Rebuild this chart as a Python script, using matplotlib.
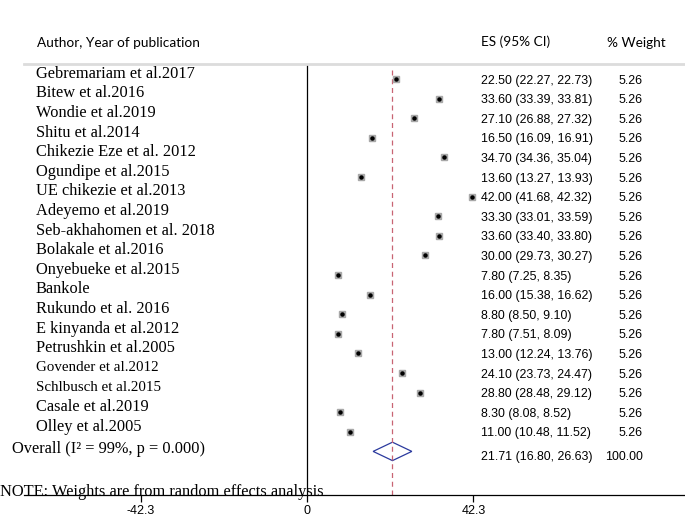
import matplotlib.pyplot as plt
from matplotlib import transforms
from matplotlib.patches import Polygon

studies = ["Gebremariam et al.2017", "Bitew et al.2016", "Wondie et al.2019",
           "Shitu et al.2014", "Chikezie Eze et al. 2012", "Ogundipe et al.2015",
           "UE chikezie et al.2013", "Adeyemo et al.2019", "Seb-akhahomen et al. 2018",
           "Bolakale et al.2016", "Onyebueke et al.2015", "Bankole",
           "Rukundo et al. 2016", "E kinyanda et al.2012", "Petrushkin et al.2005",
           "Govender et al.2012", "Schlbusch et al.2015", "Casale et al.2019",
           "Olley et al.2005"]
es = [22.50, 33.60, 27.10, 16.50, 34.70, 13.60, 42.00, 33.30, 33.60, 30.00,
      7.80, 16.00, 8.80, 7.80, 13.00, 24.10, 28.80, 8.30, 11.00]
lo = [22.27, 33.39, 26.88, 16.09, 34.36, 13.27, 41.68, 33.01, 33.40, 29.73,
      7.25, 15.38, 8.50, 7.51, 12.24, 23.73, 28.48, 8.08, 10.48]
hi = [22.73, 33.81, 27.32, 16.91, 35.04, 13.93, 42.32, 33.59, 33.80, 30.27,
      8.35, 16.62, 9.10, 8.09, 13.76, 24.47, 29.12, 8.52, 11.52]
weights = [5.26] * 19
overall = (21.71, 16.80, 26.63, 100.00)
xticks = [-42.3, 0, 42.3]

W, H = 685, 520
fig = plt.figure(figsize=(W / 100, H / 100), dpi=100)
# axes spans pixel x 24..685, y 64..495
ax = fig.add_axes([24 / W, 1 - 495 / H, 661 / W, 431 / H])
px = 3.936  # pixels per unit
ax.set_xlim(-(307 - 24) / px, (685 - 307) / px)
ax.set_ylim((495 - 79) / 19.6, (64 - 79) / 19.6)

for s in ["left", "right"]:
    ax.spines[s].set_visible(False)
ax.spines["top"].set_color("#dcdcdc")
ax.spines["top"].set_linewidth(2)
ax.spines["bottom"].set_linewidth(0.9)
ax.set_yticks([])
ax.set_xticks(xticks)
ax.set_xticklabels(["-42.3", "0", "42.3"], family="Liberation Sans", fontsize=9)
ax.tick_params(axis="x", length=5, width=0.9, pad=2)

rows = list(range(len(studies)))
n = len(studies)

ax.axvline(0, color="black", lw=0.9)
ax.plot([overall[0], overall[0]], [-0.45, (495 - 79) / 19.6], color="#c86473",
        lw=0.9, ls=(0, (4, 3)))

ax.hlines(rows, lo, hi, color="black", lw=0.8)
ax.plot(es, rows, "s", color="#a8a8a8", markersize=4.6, lw=0)
ax.plot(es, rows, "o", color="black", markersize=2.2, lw=0)

d = Polygon([[overall[1], n], [overall[0], n - 0.47], [overall[2], n],
             [overall[0], n + 0.47]], closed=True, fill=False,
            edgecolor="#2b3a9e", lw=0.9)
ax.add_patch(d)

tr = transforms.blended_transform_factory(fig.transFigure, ax.transData)
for i, name in enumerate(studies):
    fs = 10.8 if name.startswith(("Govender", "Schlbusch")) else 11.8
    ax.text(36 / W, i - 0.27, name, transform=tr, family="Liberation Serif",
            fontsize=fs, va="center", ha="left", clip_on=False)
    ax.text(481 / W, i + 0.08, f"{es[i]:.2f} ({lo[i]:.2f}, {hi[i]:.2f})",
            transform=tr, family="Liberation Sans", fontsize=8.9, va="center")
    ax.text(643 / W, i + 0.08, f"{weights[i]:.2f}", transform=tr,
            family="Liberation Sans", fontsize=8.9, va="center", ha="right")

ax.text(12 / W, n - 0.12, "Overall (I² = 99%, p = 0.000)", transform=tr,
        family="Liberation Serif", fontsize=11.8, va="center")
ax.text(481 / W, n + 0.3, f"{overall[0]:.2f} ({overall[1]:.2f}, {overall[2]:.2f})",
        transform=tr, family="Liberation Sans", fontsize=8.9, va="center")
ax.text(643 / W, n + 0.3, f"{overall[3]:.2f}", transform=tr,
        family="Liberation Sans", fontsize=8.9, va="center", ha="right")

fig.text(0, 1 - 496 / H, "NOTE: Weights are from random effects analysis",
         family="Liberation Serif", fontsize=11.8, va="baseline", ha="left")

fig.text(37 / W, 1 - 43 / H, "Author, Year of publication", family="Lato",
         fontsize=9.8, va="center")
fig.text(481 / W, 1 - 42 / H, "ES (95% CI)", family="Lato", fontsize=9.8,
         va="center")
fig.text(607 / W, 1 - 43 / H, "% Weight", family="Lato", fontsize=9.8,
         va="center")

fig.savefig("out.png", dpi=100)
